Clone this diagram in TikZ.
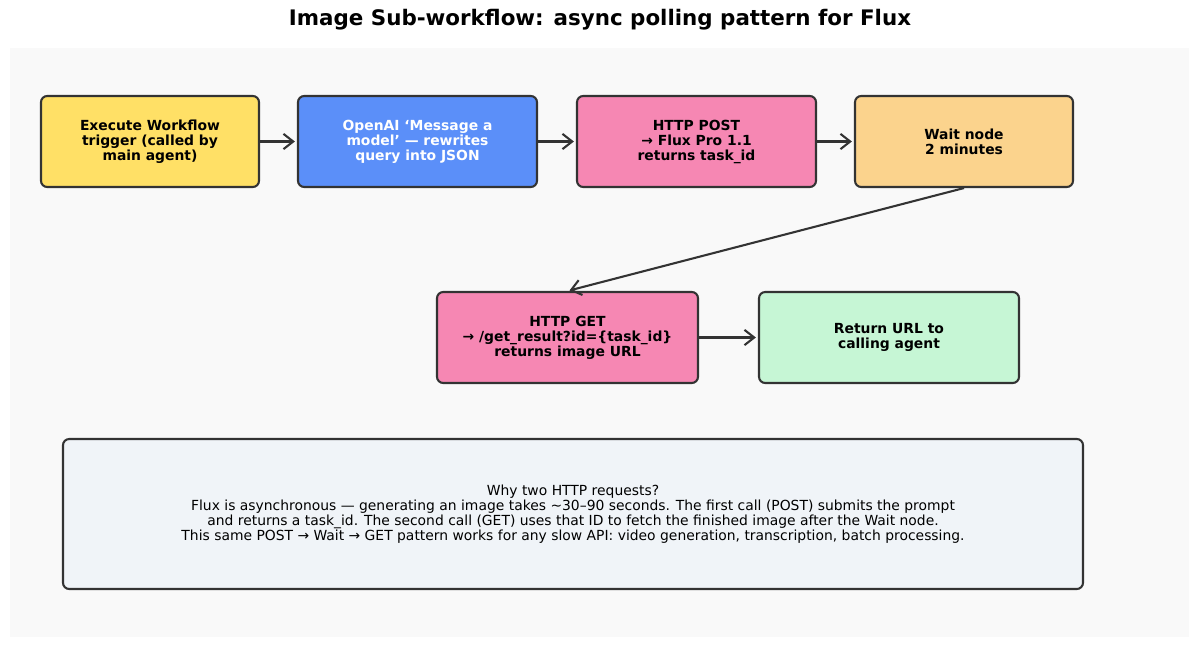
\documentclass[tikz,border=0pt]{standalone}
\usepackage{fontspec}
\setmainfont{DejaVu Sans}
\usetikzlibrary{arrows.meta}

\definecolor{edgegray}{HTML}{333333}
\definecolor{panelgray}{HTML}{F9F9F9}
\definecolor{triggeryellow}{HTML}{FFE066}
\definecolor{openaiblue}{HTML}{5B8FF9}
\definecolor{httppink}{HTML}{F687B3}
\definecolor{waitorange}{HTML}{FBD38D}
\definecolor{returngreen}{HTML}{C6F6D5}
\definecolor{notegray}{HTML}{F0F4F8}

\begin{document}
\begin{tikzpicture}[x=0.72pt, y=-0.72pt, line width=1.5pt]
	\tikzstyle{stepbox} = [rectangle, rounded corners=4.5pt, draw=edgegray, align=center, inner sep=0pt, minimum height=91*0.72pt, font=\fontsize{10}{10.8}\selectfont\bfseries]
	\tikzstyle{notebox} = [rectangle, rounded corners=4.5pt, draw=edgegray, fill=notegray, align=center, inner sep=0pt, minimum width=1020*0.72pt, minimum height=150*0.72pt, font=\fontsize{10}{10.8}\selectfont]
	\tikzstyle{flow}    = [-{Straight Barb[length=7pt, width=11pt]}, draw=edgegray, shorten >=1.5pt]

	\useasboundingbox (0,0) rectangle (1200,648);
	\fill[panelgray] (10,48) rectangle (1189,637);

	\node[font=\fontsize{15.4}{18}\selectfont\bfseries] (title) at (600,20) {Image Sub-workflow: async polling pattern for Flux};

	% top row
	\node[stepbox, fill=triggeryellow, minimum width=218*0.72pt] (trigger) at (150,141.5) {Execute Workflow\\trigger (called by\\main agent)};
	\node[stepbox, fill=openaiblue, text=white, minimum width=239*0.72pt] (openai) at (417.5,141.5) {OpenAI ‘Message a\\model’ — rewrites\\query into JSON};
	\node[stepbox, fill=httppink, minimum width=239*0.72pt] (post) at (696.5,141.5) {HTTP POST\\→ Flux Pro 1.1\\returns task\_id};
	\node[stepbox, fill=waitorange, minimum width=218*0.72pt] (wait) at (964,141.5) {Wait node\\2 minutes};

	% second row
	\node[stepbox, fill=httppink, minimum width=261*0.72pt] (get) at (567.5,337.5) {HTTP GET\\→ /get\_result?id=\{task\_id\}\\returns image URL};
	\node[stepbox, fill=returngreen, minimum width=260*0.72pt] (return) at (889,337.5) {Return URL to\\calling agent};

	\node[notebox] (note) at (573,514) {Why two HTTP requests?\\Flux is asynchronous — generating an image takes \textasciitilde30–90 seconds. The first call (POST) submits the prompt\\and returns a task\_id. The second call (GET) uses that ID to fetch the finished image after the Wait node.\\This same POST → Wait → GET pattern works for any slow API: video generation, transcription, batch processing.};

	\foreach \from/\to in {trigger/openai, openai/post, post/wait, get/return}
		\draw[flow] (\from.east) -- (\to.west);
	\draw[flow] (wait.south) -- (get.north);
\end{tikzpicture}
\end{document}
